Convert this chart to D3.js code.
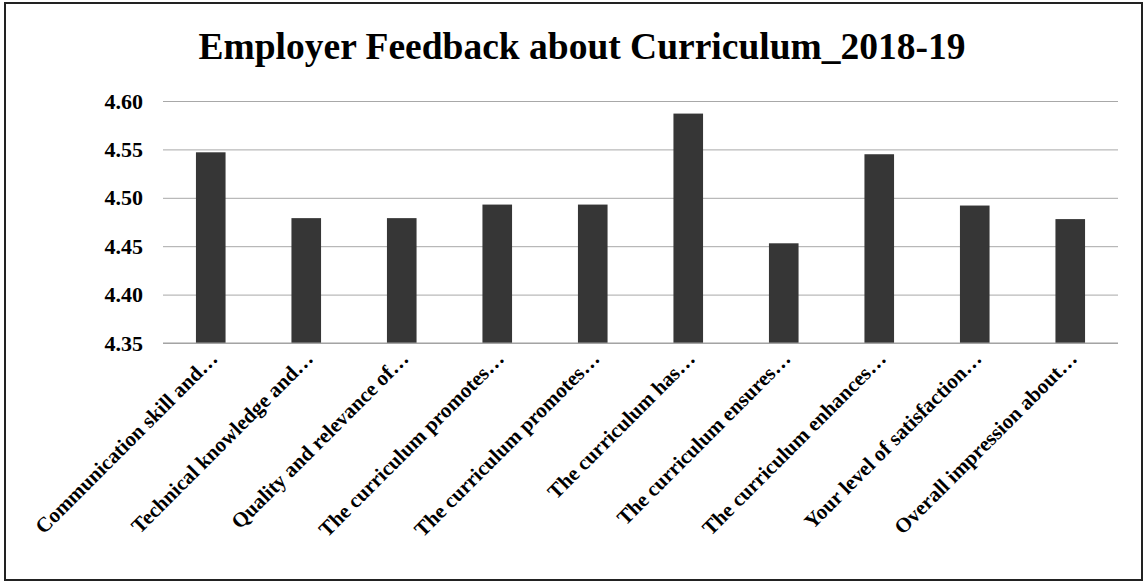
<!DOCTYPE html>
<html>
<head>
<meta charset="utf-8">
<script src="https://cdn.jsdelivr.net/npm/d3@7"></script>
<style>
  html, body { margin: 0; padding: 0; background: #fff; }
  svg { display: block; }
</style>
</head>
<body>
<svg id="chart" width="1147" height="585"></svg>
<script>
const title = "Employer Feedback about Curriculum_2018-19";
const categories = [
  "Communication skill and…",
  "Technical knowledge and…",
  "Quality and relevance of…",
  "The curriculum promotes…",
  "The curriculum promotes…",
  "The curriculum has…",
  "The curriculum ensures…",
  "The curriculum enhances…",
  "Your level of satisfaction…",
  "Overall impression about…"
];
const values = [4.547, 4.479, 4.479, 4.493, 4.493, 4.587, 4.453, 4.545, 4.492, 4.478];
const yTicks = [4.35, 4.40, 4.45, 4.50, 4.55, 4.60];

const svg = d3.select("#chart");
const W = 1147, H = 585;
const margin = { left: 163, right: 29, top: 101, bottom: 242 };
const font = "'Liberation Serif', 'Times New Roman', serif";

svg.append("rect").attr("x", 0).attr("y", 0).attr("width", W).attr("height", H).attr("fill", "#fff");
svg.append("rect").attr("x", 5).attr("y", 3).attr("width", 1137).attr("height", 577)
  .attr("fill", "none").attr("stroke", "#222").attr("stroke-width", 2);

const x = d3.scaleBand().domain(d3.range(categories.length))
  .range([margin.left, W - margin.right]).paddingInner(0.69).paddingOuter(0.345);
const y = d3.scaleLinear().domain([4.35, 4.60]).range([H - margin.bottom, margin.top]);

// gridlines
const grid = svg.append("g").call(d3.axisLeft(y).tickValues(yTicks)
  .tickSize(-(W - margin.left - margin.right)).tickFormat(d3.format(".2f")))
  .attr("transform", `translate(${margin.left},0)`);
grid.select(".domain").remove();
grid.selectAll(".tick line").attr("stroke", "#a8a8a8").attr("stroke-width", 1);
grid.selectAll(".tick text").attr("x", -20).attr("fill", "#000")
  .style("font-family", font).style("font-weight", "bold").style("font-size", "22px");

// bars
svg.append("g").selectAll("rect").data(values).join("rect")
  .attr("x", (d, i) => x(i)).attr("width", x.bandwidth())
  .attr("y", d => y(d)).attr("height", d => y(4.35) - y(d))
  .attr("fill", "#363636");

// x axis line
svg.append("line").attr("x1", margin.left).attr("x2", W - margin.right)
  .attr("y1", y(4.35)).attr("y2", y(4.35)).attr("stroke", "#a0a0a0").attr("stroke-width", 1.2);

// x labels
svg.append("g").selectAll("text").data(categories).join("text")
  .attr("transform", (d, i) => `translate(${x(i) + x.bandwidth() / 2 + 8},${y(4.35) + 17}) rotate(-45)`)
  .attr("text-anchor", "end")
  .style("font-family", font).style("font-weight", "bold").style("font-size", "21px")
  .attr("fill", "#000")
  .text(d => d);

// title
svg.append("text").attr("x", 582).attr("y", 59).attr("text-anchor", "middle")
  .style("font-family", font).style("font-weight", "bold").style("font-size", "37.5px")
  .attr("fill", "#000").text(title);
</script>
</body>
</html>
